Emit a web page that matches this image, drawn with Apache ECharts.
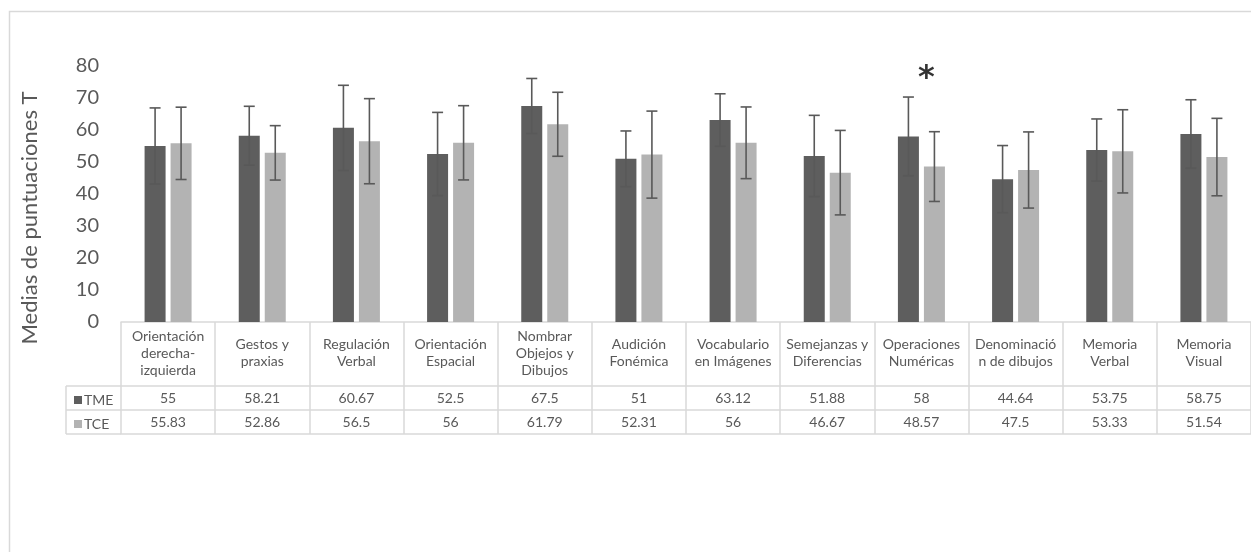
<!DOCTYPE html>
<html><head><meta charset="utf-8">
<script src="https://cdn.jsdelivr.net/npm/echarts@6/dist/echarts.min.js"></script>
<style>html,body{margin:0;padding:0;background:#fff}#c{width:1251px;height:552px}</style>
</head><body><div id="c"></div>
<script>
// ---- data ----
const categories = ["Orientación\nderecha-\nizquierda", "Gestos y\npraxias", "Regulación\nVerbal", "Orientación\nEspacial", "Nombrar\nObjejos y\nDibujos", "Audición\nFonémica", "Vocabulario\nen Imágenes", "Semejanzas y\nDiferencias", "Operaciones\nNuméricas", "Denominació\nn de dibujos", "Memoria\nVerbal", "Memoria\nVisual"];
const seriesNames = ["TME", "TCE"];
const tmeMeans = [55, 58.21, 60.67, 52.5, 67.5, 51, 63.12, 51.88, 58, 44.64, 53.75, 58.75];
const tceMeans = [55.83, 52.86, 56.5, 56, 61.79, 52.31, 56, 46.67, 48.57, 47.5, 53.33, 51.54];
const tmeSD = [11.9, 9.2, 13.3, 13.0, 8.6, 8.7, 8.2, 12.7, 12.3, 10.5, 9.7, 10.7];
const tceSD = [11.3, 8.5, 13.3, 11.6, 10.0, 13.6, 11.2, 13.2, 10.9, 11.9, 13.0, 12.1];
const significant = [0, 0, 0, 0, 0, 0, 0, 0, 1, 0, 0, 0];
const yMin = 0, yMax = 80, yStep = 10;
const yTitle = "Medias de puntuaciones T";

// ---- styles ----
const FONT = "Lato, 'Open Sans', sans-serif";
const TXT = "#595959";
const GRIDC = "#d9d9d9";
const C_TME = "#5e5e5e", C_TCE = "#b3b3b3";
const BAR_W = 21, BAR_GAP = 5;
const OFF = (BAR_W + BAR_GAP) / 2;

const chart = echarts.init(document.getElementById('c'), null, {renderer: 'canvas'});

function errRender(offset) {
  return function (params, api) {
    const i = api.value(0), m = api.value(1), sd = api.value(2);
    const t = api.coord([i, m + sd]);
    const b = api.coord([i, m - sd]);
    const x = t[0] + offset, cap = 5.5;
    const st = {stroke: '#595959', lineWidth: 1.6};
    return {type: 'group', children: [
      {type: 'line', shape: {x1: x, y1: t[1], x2: x, y2: b[1]}, style: st},
      {type: 'line', shape: {x1: x - cap, y1: t[1], x2: x + cap, y2: t[1]}, style: st},
      {type: 'line', shape: {x1: x - cap, y1: b[1], x2: x + cap, y2: b[1]}, style: st}
    ]};
  };
}

const rowAxis = (offset, values, margin) => ({
  type: 'category', data: categories, position: 'bottom', offset: offset,
  axisLine: {show: true, lineStyle: {color: GRIDC, width: 1.5}},
  axisTick: {show: false},
  axisLabel: values ? {show: true, interval: 0, margin: margin, verticalAlign: 'middle',
    fontSize: 14, color: TXT, fontFamily: FONT, formatter: (v, i) => String(values[i])} : {show: false},
  splitLine: {show: false}
});

const starData = significant.map((s, i) => s ? [i, Math.max(tmeMeans[i] + tmeSD[i], tceMeans[i] + tceSD[i]) + 8] : null).filter(Boolean);

chart.setOption({
  animation: false,
  backgroundColor: '#fff',
  grid: {left: 121, top: 66, width: 1131, height: 256, containLabel: false},
  legend: {
    data: seriesNames, orient: 'vertical', left: 69, top: 388, itemWidth: 8, itemHeight: 8,
    itemGap: 10, icon: 'rect', selectedMode: false,
    textStyle: {fontSize: 14, color: TXT, fontFamily: FONT, padding: [0, 0, 0, -3]}
  },
  xAxis: [
    {
      type: 'category', data: categories, position: 'bottom',
      axisLine: {show: true, lineStyle: {color: GRIDC, width: 1.5}},
      axisTick: {show: true, length: 112, interval: 0, lineStyle: {color: GRIDC, width: 1.5}},
      axisLabel: {interval: 0, margin: 31, verticalAlign: 'middle', lineHeight: 17,
        fontSize: 14, color: TXT, fontFamily: FONT, align: 'center'},
      splitLine: {show: false}
    },
    rowAxis(64, tmeMeans, 12),
    rowAxis(88, tceMeans, 12),
    rowAxis(112, null, 0)
  ],
  yAxis: {
    type: 'value', min: yMin, max: yMax, interval: yStep,
    name: yTitle, nameLocation: 'middle', nameGap: 80, nameRotate: 90,
    nameTextStyle: {fontSize: 22, color: TXT, fontFamily: FONT, padding: [0, 48, 0, 0]},
    axisLine: {show: false}, axisTick: {show: false}, splitLine: {show: false},
    axisLabel: {fontSize: 20, color: TXT, fontFamily: FONT, margin: 22}
  },
  series: [
    {name: 'TME', type: 'bar', data: tmeMeans, barWidth: BAR_W, barGap: (BAR_GAP / BAR_W * 100) + '%',
      itemStyle: {color: C_TME}},
    {name: 'TCE', type: 'bar', data: tceMeans, barWidth: BAR_W,
      itemStyle: {color: C_TCE}},
    {name: 'TME-err', type: 'custom', renderItem: errRender(-OFF), z: 5,
      data: tmeMeans.map((m, i) => [i, m, tmeSD[i]]), encode: {x: 0, y: 1}},
    {name: 'TCE-err', type: 'custom', renderItem: errRender(OFF), z: 5,
      data: tceMeans.map((m, i) => [i, m, tceSD[i]]), encode: {x: 0, y: 1}},
    {name: 'sig', type: 'scatter', data: starData, symbolSize: 0, z: 6,
      label: {show: true, position: 'inside', formatter: '*', fontSize: 32, color: '#000',
        fontWeight: 'bold', fontFamily: "'DejaVu Sans', sans-serif", offset: [5, 7]}}
  ],
  graphic: [
    {type: 'rect', shape: {x: 9.5, y: 11.5, width: 1260, height: 560}, style: {fill: 'none', stroke: GRIDC, lineWidth: 1.5}, silent: true},
    {type: 'line', shape: {x1: 66, y1: 386, x2: 121, y2: 386}, style: {stroke: GRIDC, lineWidth: 1.5}},
    {type: 'line', shape: {x1: 66, y1: 410, x2: 121, y2: 410}, style: {stroke: GRIDC, lineWidth: 1.5}},
    {type: 'line', shape: {x1: 66, y1: 434, x2: 121, y2: 434}, style: {stroke: GRIDC, lineWidth: 1.5}},
    {type: 'line', shape: {x1: 66, y1: 386, x2: 66, y2: 434}, style: {stroke: GRIDC, lineWidth: 1.5}}
  ]
});
</script>
</body></html>
